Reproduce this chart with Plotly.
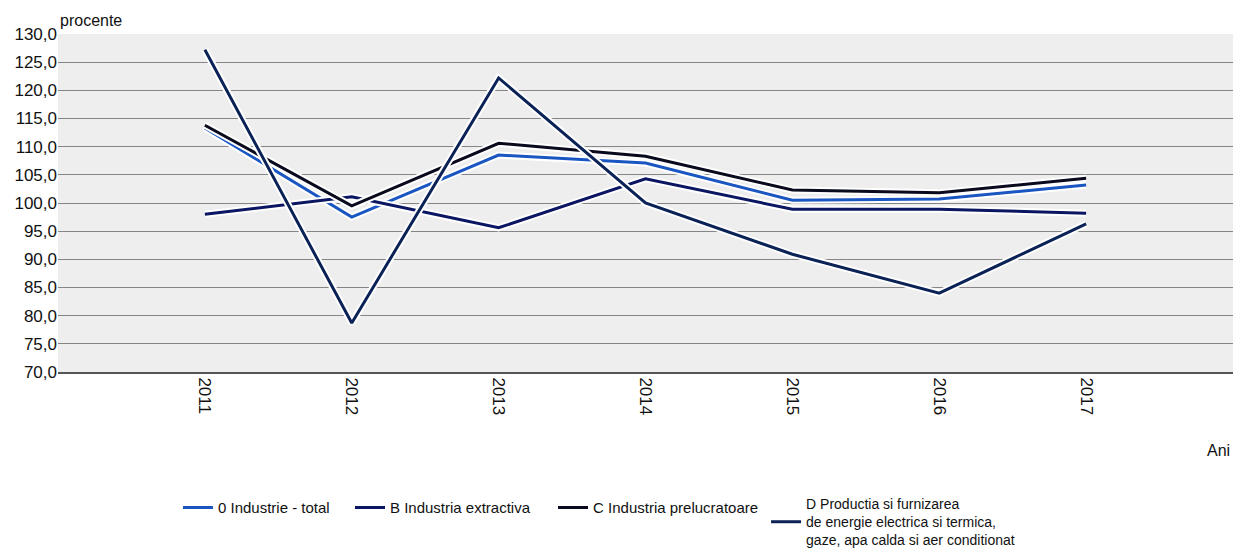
import plotly.graph_objects as go

years = [2011, 2012, 2013, 2014, 2015, 2016, 2017]

industrie_total = [113.3, 97.5, 108.5, 107.1, 100.5, 100.7, 103.2]
industria_extractiva = [98.0, 101.1, 95.6, 104.3, 98.9, 98.9, 98.2]
industria_prelucratoare = [113.8, 99.5, 110.6, 108.3, 102.3, 101.8, 104.4]
energie = [127.2, 78.7, 122.2, 100.0, 90.9, 84.0, 96.3]

series = [
    ("0 Industrie - total", industrie_total, "#1a56c2", "legend"),
    ("B Industria extractiva", industria_extractiva, "#0b1663", "legend2"),
    ("C Industria prelucratoare", industria_prelucratoare, "#0a0a1e", "legend3"),
    ("D Productia si furnizarea<br>de energie electrica si termica,<br>gaze, apa calda si aer conditionat",
     energie, "#0b2256", "legend4"),
]

fig = go.Figure()
for name, vals, color, leg in series:
    # white halo under each line
    fig.add_trace(go.Scatter(
        x=years, y=vals, mode="lines",
        line=dict(color="white", width=7),
        showlegend=False, hoverinfo="skip",
    ))
    fig.add_trace(go.Scatter(
        x=years, y=vals, mode="lines", name=name, legend=leg,
        line=dict(color=color, width=3),
    ))

font = "Liberation Sans, Arial, sans-serif"
txt = "#111111"


def legend_box(x, y=-0.353, size=15):
    return dict(
        orientation="h", x=x, xanchor="left",
        y=y, yanchor="top",
        font=dict(size=size, color=txt),
        valign="middle", bgcolor="rgba(0,0,0,0)",
    )


fig.update_layout(
    width=1233, height=551,
    margin=dict(l=58, r=0, t=34, b=179, autoexpand=False),
    paper_bgcolor="white",
    plot_bgcolor="#eeeeee",
    separators=",.",
    font=dict(family=font, size=15, color=txt),
    xaxis=dict(
        range=[2010, 2018],
        tickvals=years,
        ticktext=[str(y) for y in years],
        tickangle=90,
        showgrid=False,
        zeroline=False,
        showline=True, linecolor="#555555", linewidth=2,
        ticks="", tickfont=dict(size=17, color=txt),
    ),
    yaxis=dict(
        range=[70, 130],
        dtick=5,
        tickformat=".1f",
        showgrid=True, gridcolor="#858585", gridwidth=1,
        zeroline=False,
        showline=False,
        ticks="", tickfont=dict(size=17, color=txt),
    ),
    legend=legend_box(0.1021),
    legend2=legend_box(0.2485),
    legend3=legend_box(0.4213),
    legend4=legend_box(0.6026, y=-0.343, size=14),
    annotations=[
        dict(text="procente", xref="paper", yref="paper", x=0.0, y=1.0,
             xanchor="left", yanchor="bottom", yshift=3, showarrow=False,
             font=dict(size=16, color=txt)),
        dict(text="Ani", xref="paper", yref="paper", x=1.0, y=-0.231,
             xanchor="right", yanchor="middle", xshift=-1, showarrow=False,
             font=dict(size=16, color=txt)),
    ],
)

fig.write_html("out.html")
